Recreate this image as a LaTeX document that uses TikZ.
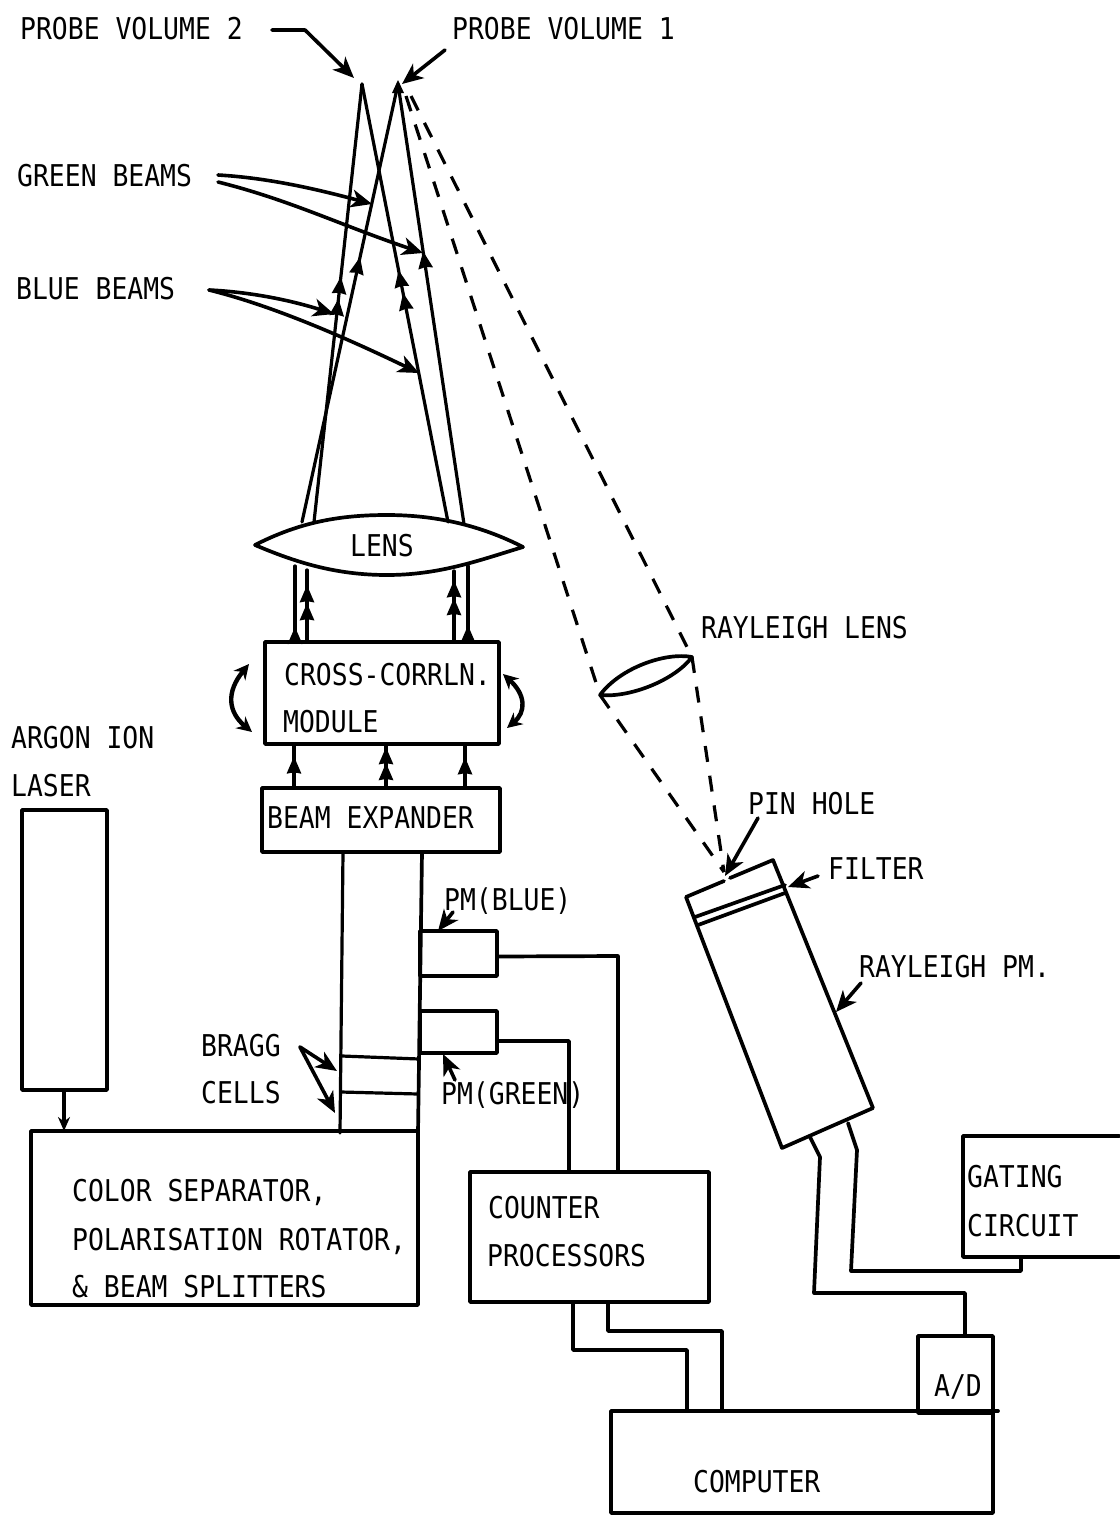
\documentclass[tikz,border=0pt]{standalone}
\usepackage{fontspec}
\usetikzlibrary{arrows.meta,decorations.markings,calc}
\newfontfamily\labfont[FakeStretch=0.88]{DejaVu Sans Mono}
\tikzset{
  x=1pt,y=-1pt,
  ln/.style={line width=3.7pt,line join=round,line cap=round},
  thinln/.style={line width=3.2pt,line join=round,line cap=round},
  box/.style={ln,draw,anchor=north west,inner sep=0pt,outer sep=0pt},
  lbl/.style={anchor=west,inner sep=0pt,text height=20pt,text depth=0pt,font=\labfont\fontsize{30}{36}\selectfont},
  point/.style={line width=3.6pt,line join=round,line cap=round,-{Stealth[length=21pt,width=18pt,inset=6pt]}},
  dsh/.style={line width=3.2pt,dash pattern=on 16pt off 14pt},
  beam/.style={thinln,postaction={decorate}},
  one/.style={decoration={markings,mark=at position #1 with {\arrow{Stealth[length=17pt,width=14pt,inset=1pt]}}}},
  two/.style 2 args={decoration={markings,mark=at position #1 with {\arrow{Stealth[length=17pt,width=14pt,inset=1pt]}},mark=at position #2 with {\arrow{Stealth[length=17pt,width=14pt,inset=1pt]}}}},
}
\begin{document}
\begin{tikzpicture}
\useasboundingbox[fill=white] (0,0) rectangle (1119,1515);
% boxes
\node[box,minimum width=234pt,minimum height=102pt] (cc) at (265,642) {};
\node[box,minimum width=238pt,minimum height=64pt] (be) at (262,788) {};
\node[box,minimum width=85pt,minimum height=280pt] (laser) at (22,810) {};
\node[box,minimum width=387pt,minimum height=174pt] (sep) at (31,1131) {};
\node[box,minimum width=239pt,minimum height=130pt] (counter) at (470,1172) {};
\node[box,minimum width=77pt,minimum height=45pt] (pmb) at (420,931) {};
\node[box,minimum width=77pt,minimum height=42pt] (pmg) at (420,1011) {};
\node[box,minimum width=75pt,minimum height=77pt] (ad) at (918,1336) {};
\node[box,minimum width=382pt,minimum height=102pt] (comp) at (611,1411) {};
\draw[ln] (comp.north east) -- ++(5,0);
% gating box, open at the page edge
\coordinate (g1) at (1119,1136); \coordinate (g2) at (963,1136);
\coordinate (g3) at (963,1257); \coordinate (g4) at (1119,1257);
\draw[ln] (g1) -- (g2) -- (g3) -- (g4);
% column and Bragg cells
\coordinate (cl1) at (343,852); \coordinate (cl2) at (340,1133);
\coordinate (cr1) at (422,852); \coordinate (cr2) at (418,1133);
\draw[thinln] (cl1) -- (cl2);
\draw[ln] (cr1) -- (cr2);
\coordinate (b1l) at (342,1056); \coordinate (b1r) at (419,1059);
\coordinate (b2l) at (341,1092); \coordinate (b2r) at (418,1094);
\draw[thinln] (b1l) -- (b1r);
\draw[thinln] (b2l) -- (b2r);
% PM to counter
\draw[ln] (pmb.east) ++(0,3) -- (618,956) -- (618,0 |- counter.north);
\draw[ln] (pmg.east) ++(0,9) -- (569,1041) -- (569,0 |- counter.north);
% laser to separator
\draw[thinln,-{Stealth[length=14pt,width=12pt]}] (64,0 |- laser.south) -- (64,0 |- sep.north);
% beam expander to module
\draw[beam,one=.72] (294,0 |- be.north) -- (294,0 |- cc.south);
\draw[beam,two={.93}{.57}] (386,0 |- be.north) -- (386,0 |- cc.south);
\draw[beam,one=.70] (465,0 |- be.north) -- (465,0 |- cc.south);
% lens
\coordinate (lensL) at (255,545); \coordinate (lensR) at (523,547);
\draw[ln,fill=white] (lensL) .. controls (300,522) and (340,515) .. (387,515)
  .. controls (435,515) and (480,525) .. (lensR)
  .. controls (480,560) and (440,575) .. (387,575)
  .. controls (335,575) and (295,562) .. cycle;
% module to lens
\coordinate (u1) at (295,566); \coordinate (u2) at (307,570);
\coordinate (u3) at (454,571); \coordinate (u4) at (468,566);
\draw[beam,one=.2] (295,0 |- cc.north) -- (u1);
\draw[beam,two={.79}{.54}] (307,0 |- cc.north) -- (u2);
\draw[beam,two={.87}{.62}] (454,0 |- cc.north) -- (u3);
\draw[beam,one=.22] (468,0 |- cc.north) -- (u4);
% beams from lens to probe volumes
\coordinate (p2) at (362,84); \coordinate (p1) at (398,84);
\coordinate (lb1) at (314,522); \coordinate (lb2) at (302,522);
\coordinate (lb3) at (448,522); \coordinate (lb4) at (464,524);
\draw[beam,two={.56}{.51}] (lb1) -- (p2);
\draw[beam,one=.605] (lb2) -- (p1);
\draw[beam,two={.575}{.523}] (lb3) -- (p2);
\draw[beam,one=.62] (lb4) -- (p1);
\draw[line width=3.6pt] (p2) -- ++(0,8);
\fill (p1) ++(0,-4) -- ++(6,13) -- ++(-12,0) -- cycle;
% rotation arrows
\coordinate (ra1) at (249,664); \coordinate (ra2) at (252,732);
\coordinate (ra3) at (503,674); \coordinate (ra4) at (507,728);
\draw[line width=4.4pt,{Stealth[length=15pt,width=15pt]}-{Stealth[length=15pt,width=15pt]}] (ra1) .. controls (226,692) and (228,712) .. (ra2);
\draw[line width=4.4pt,{Stealth[length=15pt,width=15pt]}-{Stealth[length=15pt,width=15pt]}] (ra3) .. controls (526,695) and (526,712) .. (ra4);
% Rayleigh path
\coordinate (o1) at (406,96); \coordinate (o2) at (411,96);
\coordinate (rl) at (600,695); \coordinate (rr) at (692,657); \coordinate (ph) at (724,872);
\draw[dsh] (o1) -- (rl);
\draw[dsh] (o2) -- (rr);
\draw[dsh] (rl) -- (ph);
\draw[dsh] (rr) -- (ph);
\draw[ln] (rl) .. controls (620,668) and (665,652) .. (rr)
  .. controls (675,680) and (630,698) .. cycle;
% Rayleigh PM tube
\coordinate (t1) at (686,897); \coordinate (t2) at (773,860);
\coordinate (t3) at (873,1108); \coordinate (t4) at (782,1148);
\coordinate (h1) at (724,881); \coordinate (h2) at (730,878);
\draw[ln] (h1) -- (t1) -- (t4) -- (t3) -- (t2) -- (h2);
\coordinate (f1) at (695,917); \coordinate (f2) at (785,885);
\coordinate (f3) at (698,925); \coordinate (f4) at (785,893);
\draw[ln] (f1) -- (f2);
\draw[ln] (f3) -- (f4);
% Rayleigh PM outputs
\coordinate (l1) at (810,1137); \coordinate (l2) at (820,1157); \coordinate (l3) at (814,1293);
\coordinate (r1) at (848,1123); \coordinate (r2) at (857,1150); \coordinate (r3) at (851,1271);
\draw[ln] (l1) -- (l2) -- (l3) -- (965,1293) -- (965,0 |- ad.north);
\draw[ln] (r1) -- (r2) -- (r3) -- (1021,1271) -- (1021,0 |- g3);
% counter to computer
\draw[ln] (573,0 |- counter.south) -- (573,1350) -- (687,1350) -- (687,0 |- comp.north);
\draw[ln] (608,0 |- counter.south) -- (608,1331) -- (722,1331) -- (722,0 |- comp.north);
% texts
\node[lbl] (tp2) at (20,29) {PROBE VOLUME 2};
\node[lbl] (tp1) at (452,29) {PROBE VOLUME 1};
\node[lbl] (tgb) at (17,176) {GREEN BEAMS};
\node[lbl] (tbb) at (16,289) {BLUE BEAMS};
\node[lbl] (tlens) at (350,546) {LENS};
\node[lbl] (tcc) at (284,675) {CROSS-CORRLN.};
\node[lbl] (tmod) at (283,722) {MODULE};
\node[lbl] (trl) at (701,628) {RAYLEIGH LENS};
\node[lbl] (tar) at (11,738) {ARGON ION};
\node[lbl] (tla) at (11,786) {LASER};
\node[lbl] (tbe) at (267,818) {BEAM EXPANDER};
\node[lbl] (tph) at (748,804) {PIN HOLE};
\node[lbl] (tfi) at (828,869) {FILTER};
\node[lbl] (trp) at (859,967) {RAYLEIGH PM.};
\node[lbl] (tpb) at (444,900) {PM(BLUE)};
\node[lbl] (tpg) at (441,1094) {PM(GREEN)};
\node[lbl] (tbr) at (201,1046) {BRAGG};
\node[lbl] (tce) at (201,1093) {CELLS};
\node[lbl] (ts1) at (72,1191) {COLOR SEPARATOR,};
\node[lbl] (ts2) at (72,1240) {POLARISATION ROTATOR,};
\node[lbl] (ts3) at (72,1287) {\& BEAM SPLITTERS};
\node[lbl] (tc1) at (488,1208) {COUNTER};
\node[lbl] (tc2) at (487,1256) {PROCESSORS};
\node[lbl] (tg1) at (967,1177) {GATING};
\node[lbl] (tg2) at (967,1226) {CIRCUIT};
\node[lbl] (tad) at (934,1386) {A/D};
\node[lbl] (tco) at (693,1482) {COMPUTER};
% pointers
\coordinate (a0) at (272,30); \coordinate (a1) at (305,30); \coordinate (a2) at (354,78);
\draw[point] (a0) -- (a1) -- (a2);
\coordinate (a3) at (445,50); \coordinate (a4) at (402,84);
\draw[point] (a3) -- (a4);
\coordinate (g0) at (218,175); \coordinate (g5) at (372,204);
\coordinate (g6) at (218,182); \coordinate (g7) at (423,253);
\draw[point] (g0) .. controls (270,178) and (320,190) .. (g5);
\draw[point] (g6) .. controls (290,200) and (340,225) .. (g7);
\coordinate (bb0) at (209,290); \coordinate (bb1) at (334,314); \coordinate (bb2) at (419,373);
\draw[point] (bb0) .. controls (250,292) and (290,300) .. (bb1);
\draw[point] (bb0) .. controls (270,305) and (340,335) .. (bb2);
\coordinate (br0) at (300,1047); \coordinate (br1) at (337,1071); \coordinate (br2) at (335,1113);
\draw[point] (br0) -- (br1);
\draw[point] (br0) -- (br2);
\coordinate (ph0) at (758,818); \coordinate (ph1) at (725,876);
\draw[point] (ph0) -- (ph1);
\coordinate (fl0) at (818,876); \coordinate (fl1) at (788,887);
\draw[point] (fl0) -- (fl1);
\coordinate (rp0) at (861,983); \coordinate (rp1) at (836,1012);
\draw[point] (rp0) -- (rp1);
\coordinate (pb0) at (453,912); \coordinate (pb1) at (438,931);
\draw[point] (pb0) -- (pb1);
\coordinate (pg0) at (455,1080); \coordinate (pg1) at (443,1054);
\draw[point] (pg0) -- (pg1);
\end{tikzpicture}
\end{document}
